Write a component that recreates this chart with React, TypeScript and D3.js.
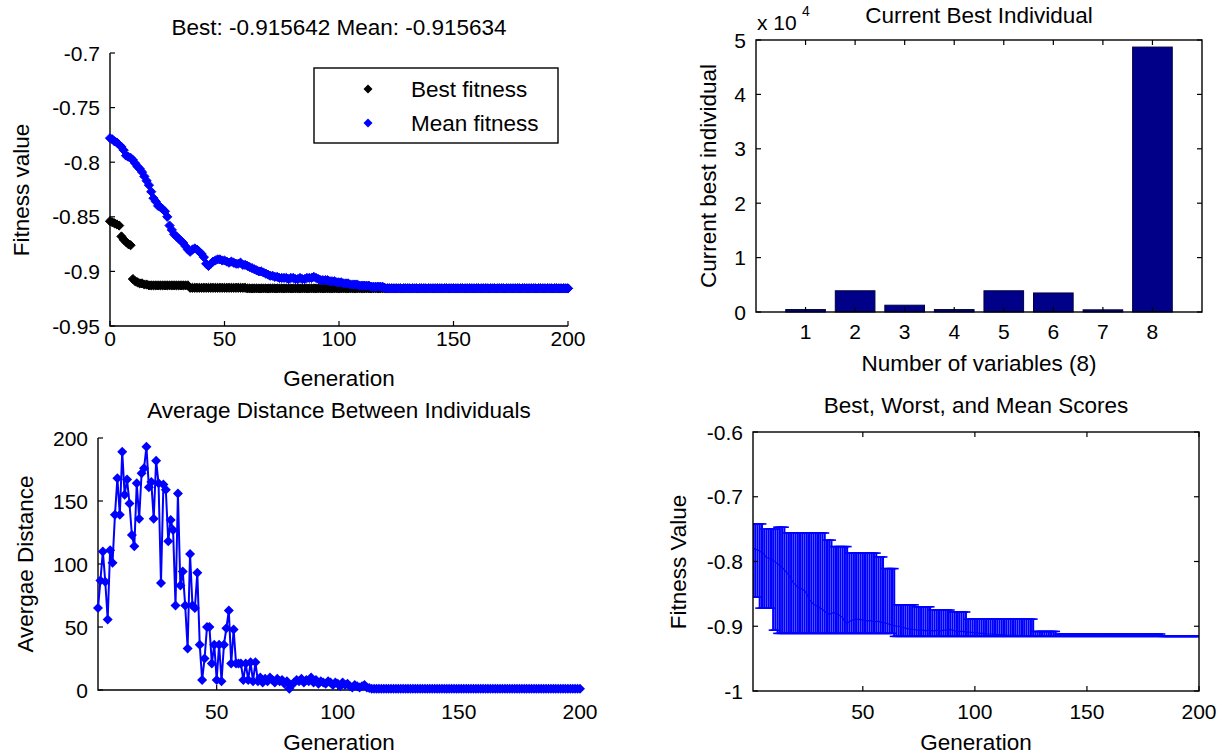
import React from 'react';
import * as d3 from 'd3';

const FONT = '"Liberation Sans", Arial, Helvetica, sans-serif';
const TICK_FS = 21;
const LABEL_FS = 22.5;

// ---------------- Panel 1: Best / Mean fitness ----------------
const fitnessTitle = 'Best: -0.915642 Mean: -0.915634';
const fitnessXTicks = [0, 50, 100, 150, 200];
const fitnessXTickLabels = ['0', '50', '100', '150', '200'];
const fitnessYTicks = [-0.95, -0.9, -0.85, -0.8, -0.75, -0.7];
const fitnessYTickLabels = ['-0.95', '-0.9', '-0.85', '-0.8', '-0.75', '-0.7'];
const legendLabels = ['Best fitness', 'Mean fitness'];

// generation 0..200
const bestFitness = [
  -0.854, -0.855, -0.856, -0.857, -0.858, -0.868, -0.871, -0.873, -0.875, -0.876,
  -0.907, -0.909, -0.910, -0.911, -0.911, -0.912, -0.912, -0.9128, -0.9128, -0.9128,
  -0.9128, -0.9128, -0.9128, -0.9128, -0.9128, -0.9128, -0.9128, -0.9128, -0.9128, -0.9128,
  -0.9128, -0.9128, -0.9128, -0.9128, -0.9128, -0.915, -0.915, -0.915, -0.915, -0.915,
  -0.915, -0.915, -0.915, -0.915, -0.915, -0.915, -0.915, -0.915, -0.915, -0.915,
  -0.915, -0.915, -0.915, -0.915, -0.915, -0.915, -0.915, -0.915, -0.915, -0.915,
  -0.9156, -0.9156, -0.9156, -0.9156, -0.9156, -0.9156, -0.9156, -0.9156, -0.9156, -0.9156,
  -0.9156, -0.9156, -0.9156, -0.9156, -0.9156, -0.9156, -0.9156, -0.9156, -0.9156, -0.9156,
  -0.9156, -0.9156, -0.9156, -0.9156, -0.9156, -0.9156, -0.9156, -0.9156, -0.9156, -0.9156,
  -0.9156, -0.9156, -0.9156, -0.9156, -0.9156, -0.9156, -0.9156, -0.9156, -0.9156, -0.9156,
  -0.9156, -0.9156, -0.9156, -0.9156, -0.9156, -0.9156, -0.9156, -0.9156, -0.9156, -0.9156,
  -0.9156, -0.9156, -0.9156, -0.9156, -0.9156, -0.9156, -0.9156, -0.9156, -0.9156, -0.9156,
  -0.9156, -0.9156, -0.9156, -0.9156, -0.9156, -0.9156, -0.9156, -0.9156, -0.9156, -0.9156,
  -0.9156, -0.9156, -0.9156, -0.9156, -0.9156, -0.9156, -0.9156, -0.9156, -0.9156, -0.9156,
  -0.9156, -0.9156, -0.9156, -0.9156, -0.9156, -0.9156, -0.9156, -0.9156, -0.9156, -0.9156,
  -0.9156, -0.9156, -0.9156, -0.9156, -0.9156, -0.9156, -0.9156, -0.9156, -0.9156, -0.9156,
  -0.9156, -0.9156, -0.9156, -0.9156, -0.9156, -0.9156, -0.9156, -0.9156, -0.9156, -0.9156,
  -0.9156, -0.9156, -0.9156, -0.9156, -0.9156, -0.9156, -0.9156, -0.9156, -0.9156, -0.9156,
  -0.9156, -0.9156, -0.9156, -0.9156, -0.9156, -0.9156, -0.9156, -0.9156, -0.9156, -0.9156,
  -0.9156, -0.9156, -0.9156, -0.9156, -0.9156, -0.9156, -0.9156, -0.9156, -0.9156, -0.9156,
  -0.9156,
];

// generation 0..200
const meanFitness = [
  -0.778, -0.779, -0.781, -0.782, -0.784, -0.786, -0.789, -0.794, -0.795, -0.796,
  -0.798, -0.801, -0.804, -0.806, -0.809, -0.813, -0.817, -0.821, -0.827, -0.833,
  -0.836, -0.840, -0.841, -0.843, -0.845, -0.850, -0.858, -0.862, -0.866, -0.868,
  -0.870, -0.872, -0.874, -0.877, -0.880, -0.882, -0.880, -0.879, -0.880, -0.882,
  -0.884, -0.887, -0.893, -0.895, -0.893, -0.891, -0.890, -0.889, -0.889, -0.890,
  -0.890, -0.891, -0.892, -0.891, -0.892, -0.893, -0.893, -0.892, -0.894, -0.894,
  -0.895, -0.896, -0.897, -0.898, -0.899, -0.900, -0.900, -0.901, -0.902, -0.903,
  -0.904, -0.904, -0.905, -0.905, -0.906, -0.906, -0.906, -0.906, -0.907, -0.906,
  -0.906, -0.907, -0.907, -0.906, -0.907, -0.907, -0.906, -0.906, -0.906, -0.905,
  -0.906, -0.907, -0.908, -0.908, -0.908, -0.908, -0.909, -0.909, -0.909, -0.910,
  -0.910, -0.910, -0.911, -0.911, -0.911, -0.912, -0.912, -0.912, -0.912, -0.913,
  -0.913, -0.913, -0.913, -0.913, -0.914, -0.914, -0.914, -0.914, -0.914, -0.914,
  -0.915, -0.9156, -0.9156, -0.9156, -0.9156, -0.9156, -0.9156, -0.9156, -0.9156, -0.9156,
  -0.9156, -0.9156, -0.9156, -0.9156, -0.9156, -0.9156, -0.9156, -0.9156, -0.9156, -0.9156,
  -0.9156, -0.9156, -0.9156, -0.9156, -0.9156, -0.9156, -0.9156, -0.9156, -0.9156, -0.9156,
  -0.9156, -0.9156, -0.9156, -0.9156, -0.9156, -0.9156, -0.9156, -0.9156, -0.9156, -0.9156,
  -0.9156, -0.9156, -0.9156, -0.9156, -0.9156, -0.9156, -0.9156, -0.9156, -0.9156, -0.9156,
  -0.9156, -0.9156, -0.9156, -0.9156, -0.9156, -0.9156, -0.9156, -0.9156, -0.9156, -0.9156,
  -0.9156, -0.9156, -0.9156, -0.9156, -0.9156, -0.9156, -0.9156, -0.9156, -0.9156, -0.9156,
  -0.9156, -0.9156, -0.9156, -0.9156, -0.9156, -0.9156, -0.9156, -0.9156, -0.9156, -0.9156,
  -0.9156,
];

// ---------------- Panel 2: Current best individual ----------------
const individualTitle = 'Current Best Individual';
const variableLabels = ['1', '2', '3', '4', '5', '6', '7', '8'];
const bestIndividual = [450, 3900, 1250, 450, 3900, 3500, 400, 48700];
const individualYTicks = [0, 10000, 20000, 30000, 40000, 50000];
const individualYTickLabels = ['0', '1', '2', '3', '4', '5'];

// ---------------- Panel 3: Average distance ----------------
const distanceTitle = 'Average Distance Between Individuals';
const distanceXTicks = [50, 100, 150, 200];
const distanceXTickLabels = ['50', '100', '150', '200'];
const distanceYTicks = [0, 50, 100, 150, 200];
const distanceYTickLabels = ['0', '50', '100', '150', '200'];
// generation 1..200
const avgDistance = [
  65, 87, 110, 86, 56, 111, 101, 139, 168, 139,
  189, 155, 167, 148, 123, 114, 164, 136, 172, 176,
  193, 161, 165, 136, 182, 164, 85, 163, 159, 118,
  135, 127, 67, 156, 83, 94, 67, 33, 108, 67,
  65, 93, 36, 8, 25, 50, 50, 21, 36, 8,
  36, 7, 36, 49, 63, 21, 48, 21, 21, 21,
  8, 21, 8, 22, 7, 22, 7, 10, 6, 9,
  7, 10, 8, 6, 9, 7, 8, 5, 7, 1,
  4, 6, 8, 7, 9, 6, 8, 7, 10, 6,
  8, 5, 7, 6, 5, 7, 6, 4, 6, 5,
  3, 6, 4, 5, 3, 2, 4, 3, 2, 3,
  4, 2, 1.5, 1, 1, 1, 1, 1, 1, 1,
  1, 1, 1, 1, 1, 1, 1, 1, 1, 1,
  1, 1, 1, 1, 1, 1, 1, 1, 1, 1,
  1, 1, 1, 1, 1, 1, 1, 1, 1, 1,
  1, 1, 1, 1, 1, 1, 1, 1, 1, 1,
  1, 1, 1, 1, 1, 1, 1, 1, 1, 1,
  1, 1, 1, 1, 1, 1, 1, 1, 1, 1,
  1, 1, 1, 1, 1, 1, 1, 1, 1, 1,
  1, 1, 1, 1, 1, 1, 1, 1, 1, 1,
];

// ---------------- Panel 4: Best, worst, mean scores ----------------
const scoresTitle = 'Best, Worst, and Mean Scores';
const scoreXTicks = [50, 100, 150, 200];
const scoreXTickLabels = ['50', '100', '150', '200'];
const scoreYTicks = [-1, -0.9, -0.8, -0.7, -0.6];
const scoreYTickLabels = ['-1', '-0.9', '-0.8', '-0.7', '-0.6'];
// generation 1..200
const worstScore = [
  -0.742, -0.742, -0.742, -0.742, -0.742, -0.750, -0.750, -0.750, -0.750, -0.750,
  -0.750, -0.747, -0.747, -0.747, -0.747, -0.756, -0.756, -0.756, -0.756, -0.756,
  -0.756, -0.756, -0.756, -0.756, -0.756, -0.756, -0.756, -0.756, -0.756, -0.756,
  -0.756, -0.756, -0.756, -0.767, -0.767, -0.767, -0.777, -0.777, -0.777, -0.777,
  -0.777, -0.777, -0.777, -0.787, -0.787, -0.787, -0.787, -0.787, -0.787, -0.787,
  -0.787, -0.787, -0.787, -0.787, -0.787, -0.787, -0.793, -0.793, -0.793, -0.811,
  -0.811, -0.811, -0.811, -0.811, -0.867, -0.867, -0.867, -0.867, -0.867, -0.867,
  -0.867, -0.867, -0.867, -0.870, -0.870, -0.870, -0.870, -0.870, -0.870, -0.870,
  -0.875, -0.875, -0.875, -0.875, -0.875, -0.875, -0.875, -0.875, -0.875, -0.878,
  -0.878, -0.878, -0.878, -0.878, -0.878, -0.878, -0.889, -0.889, -0.889, -0.889,
  -0.889, -0.889, -0.889, -0.889, -0.889, -0.889, -0.889, -0.889, -0.889, -0.889,
  -0.889, -0.889, -0.889, -0.889, -0.889, -0.889, -0.889, -0.889, -0.889, -0.889,
  -0.889, -0.889, -0.889, -0.889, -0.889, -0.889, -0.908, -0.908, -0.908, -0.908,
  -0.908, -0.908, -0.908, -0.908, -0.908, -0.908, -0.912, -0.912, -0.912, -0.912,
  -0.912, -0.912, -0.912, -0.912, -0.912, -0.912, -0.912, -0.912, -0.912, -0.912,
  -0.912, -0.912, -0.912, -0.912, -0.912, -0.912, -0.912, -0.912, -0.912, -0.912,
  -0.912, -0.912, -0.912, -0.912, -0.912, -0.912, -0.912, -0.912, -0.912, -0.912,
  -0.912, -0.912, -0.912, -0.912, -0.912, -0.912, -0.912, -0.912, -0.912, -0.912,
  -0.912, -0.912, -0.912, -0.9156, -0.9156, -0.9156, -0.9156, -0.9156, -0.9156, -0.9156,
  -0.9156, -0.9156, -0.9156, -0.9156, -0.9156, -0.9156, -0.9156, -0.9156, -0.9156, -0.9156,
];
// generation 1..200
const bestScore = [
  -0.855, -0.855, -0.855, -0.872, -0.872, -0.872, -0.872, -0.872, -0.872, -0.906,
  -0.906, -0.911, -0.911, -0.911, -0.911, -0.911, -0.911, -0.911, -0.911, -0.911,
  -0.911, -0.911, -0.911, -0.911, -0.911, -0.911, -0.911, -0.911, -0.911, -0.911,
  -0.911, -0.911, -0.911, -0.911, -0.911, -0.911, -0.911, -0.911, -0.911, -0.911,
  -0.911, -0.911, -0.911, -0.911, -0.911, -0.911, -0.911, -0.911, -0.911, -0.911,
  -0.911, -0.911, -0.911, -0.911, -0.911, -0.911, -0.911, -0.911, -0.911, -0.911,
  -0.911, -0.911, -0.911, -0.9156, -0.9156, -0.9156, -0.9156, -0.9156, -0.9156, -0.9156,
  -0.9156, -0.9156, -0.9156, -0.9156, -0.9156, -0.9156, -0.9156, -0.9156, -0.9156, -0.9156,
  -0.9156, -0.9156, -0.9156, -0.9156, -0.9156, -0.9156, -0.9156, -0.9156, -0.9156, -0.9156,
  -0.9156, -0.9156, -0.9156, -0.9156, -0.9156, -0.9156, -0.9156, -0.9156, -0.9156, -0.9156,
  -0.9156, -0.9156, -0.9156, -0.9156, -0.9156, -0.9156, -0.9156, -0.9156, -0.9156, -0.9156,
  -0.9156, -0.9156, -0.9156, -0.9156, -0.9156, -0.9156, -0.9156, -0.9156, -0.9156, -0.9156,
  -0.9156, -0.9156, -0.9156, -0.9156, -0.9156, -0.9156, -0.9156, -0.9156, -0.9156, -0.9156,
  -0.9156, -0.9156, -0.9156, -0.9156, -0.9156, -0.9156, -0.9156, -0.9156, -0.9156, -0.9156,
  -0.9156, -0.9156, -0.9156, -0.9156, -0.9156, -0.9156, -0.9156, -0.9156, -0.9156, -0.9156,
  -0.9156, -0.9156, -0.9156, -0.9156, -0.9156, -0.9156, -0.9156, -0.9156, -0.9156, -0.9156,
  -0.9156, -0.9156, -0.9156, -0.9156, -0.9156, -0.9156, -0.9156, -0.9156, -0.9156, -0.9156,
  -0.9156, -0.9156, -0.9156, -0.9156, -0.9156, -0.9156, -0.9156, -0.9156, -0.9156, -0.9156,
  -0.9156, -0.9156, -0.9156, -0.9156, -0.9156, -0.9156, -0.9156, -0.9156, -0.9156, -0.9156,
  -0.9156, -0.9156, -0.9156, -0.9156, -0.9156, -0.9156, -0.9156, -0.9156, -0.9156, -0.9156,
];
// mean score per generation 1..200 is the mean fitness of the population
const meanScore = meanFitness.slice(1);

// ---------------- scales ----------------
const x1 = d3.scaleLinear().domain([0, 200]).range([110, 568]);
const y1 = d3.scaleLinear().domain([-0.95, -0.7]).range([326, 53]);
const x2 = d3.scaleLinear().domain([0, 9]).range([756, 1202]);
const y2 = d3.scaleLinear().domain([0, 50000]).range([312, 40]);
const x3 = d3.scaleLinear().domain([1, 200]).range([98, 580]);
const y3 = d3.scaleLinear().domain([0, 200]).range([690, 438]);
const x4 = d3.scaleLinear().domain([1, 200]).range([753, 1199]);
const y4 = d3.scaleLinear().domain([-1, -0.6]).range([691, 432]);

const BLUE = '#0000ff';
const TL = 5;

function diamond(r: number) {
  return `M0,${-r}L${r},0L0,${r}L${-r},0Z`;
}

type AxesProps = {
  xr: [number, number];
  yr: [number, number]; // [bottom, top]
  xTickPos: number[];
  xTickLabels: string[];
  yTickPos: number[];
  yTickLabels: string[];
  box: boolean;
  xLabelBaseline: number;
};

function Axes({ xr, yr, xTickPos, xTickLabels, yTickPos, yTickLabels, box, xLabelBaseline }: AxesProps) {
  const [xa, xb] = xr;
  const [yb, yt] = yr;
  return (
    <g>
      {box ? (
        <rect x={xa} y={yt} width={xb - xa} height={yb - yt} fill="none" stroke="#000" strokeWidth={1.4} />
      ) : (
        <path d={`M${xa},${yt}V${yb}H${xb}`} fill="none" stroke="#000" strokeWidth={1.4} />
      )}
      {xTickPos.map((px, i) => (
        <g key={'x' + i}>
          <line x1={px} x2={px} y1={yb} y2={yb - TL} stroke="#000" strokeWidth={1.2} />
          {box && <line x1={px} x2={px} y1={yt} y2={yt + TL} stroke="#000" strokeWidth={1.2} />}
          <text x={px} y={xLabelBaseline} textAnchor="middle" fontSize={TICK_FS} fill="#000">
            {xTickLabels[i]}
          </text>
        </g>
      ))}
      {yTickPos.map((py, i) => (
        <g key={'y' + i}>
          <line x1={xa} x2={xa + TL} y1={py} y2={py} stroke="#000" strokeWidth={1.2} />
          {box && <line x1={xb} x2={xb - TL} y1={py} y2={py} stroke="#000" strokeWidth={1.2} />}
          <text x={xa - 10} y={py + 7.5} textAnchor="end" fontSize={TICK_FS} fill="#000">
            {yTickLabels[i]}
          </text>
        </g>
      ))}
    </g>
  );
}

function YLabel({ x, y, text }: { x: number; y: number; text: string }) {
  return (
    <text transform={`translate(${x},${y}) rotate(-90)`} textAnchor="middle" fontSize={LABEL_FS} fill="#000">
      {text}
    </text>
  );
}

export default function App() {
  const distLine = d3
    .line<number>()
    .x((_, i) => x3(i + 1))
    .y((d) => y3(d))(avgDistance) as string;
  const meanScoreLine = d3
    .line<number>()
    .x((_, i) => x4(i + 1))
    .y((d) => y4(d))(meanScore) as string;
  const tee = 2; // errorbar cap half-width in generations
  const barW = x2(0.8) - x2(0);

  return (
    <svg
      width={1226}
      height={754}
      viewBox="0 0 1226 754"
      style={{ position: 'absolute', left: 0, top: 0, display: 'block' }}
      fontFamily={FONT}
    >
      <defs>
        <clipPath id="clip4">
          <rect x={x4.range()[0]} y={y4.range()[1]} width={x4.range()[1] - x4.range()[0]} height={y4.range()[0] - y4.range()[1]} />
        </clipPath>
      </defs>
      <rect width={1226} height={754} fill="#fff" />

      {/* ---------- Panel 1 ---------- */}
      <text x={339} y={35} textAnchor="middle" fontSize={LABEL_FS}>{fitnessTitle}</text>
      <Axes
        xr={[x1.range()[0], x1.range()[1]]}
        yr={[y1.range()[0], y1.range()[1]]}
        xTickPos={fitnessXTicks.map((t) => x1(t))}
        xTickLabels={fitnessXTickLabels}
        yTickPos={fitnessYTicks.map((t) => y1(t))}
        yTickLabels={fitnessYTickLabels}
        box={false}
        xLabelBaseline={346}
      />
      {bestFitness.map((v, i) => (
        <path key={'b' + i} d={diamond(4.6)} transform={`translate(${x1(i)},${y1(v)})`} fill="#000" stroke="#000" strokeWidth={1} />
      ))}
      {meanFitness.map((v, i) => (
        <path key={'m' + i} d={diamond(4.6)} transform={`translate(${x1(i)},${y1(v)})`} fill={BLUE} stroke={BLUE} strokeWidth={1} />
      ))}
      <rect x={314} y={68} width={244} height={75} fill="#fff" stroke="#000" strokeWidth={1.4} />
      <path d={diamond(4.5)} transform="translate(368,89)" fill="#000" />
      <path d={diamond(4.5)} transform="translate(368,123)" fill={BLUE} />
      <text x={411} y={97} fontSize={LABEL_FS}>{legendLabels[0]}</text>
      <text x={411} y={131} fontSize={LABEL_FS}>{legendLabels[1]}</text>
      <text x={339} y={386} textAnchor="middle" fontSize={LABEL_FS}>Generation</text>
      <YLabel x={29} y={190} text="Fitness value" />

      {/* ---------- Panel 2 ---------- */}
      <text x={979} y={23} textAnchor="middle" fontSize={LABEL_FS}>{individualTitle}</text>
      {bestIndividual.map((v, i) => (
        <rect
          key={'bar' + i}
          x={x2(i + 1) - barW / 2}
          y={y2(v)}
          width={barW}
          height={y2(0) - y2(v)}
          fill="#000088"
          stroke="#000044"
          strokeWidth={1}
        />
      ))}
      <Axes
        xr={[x2.range()[0], x2.range()[1]]}
        yr={[y2.range()[0], y2.range()[1]]}
        xTickPos={variableLabels.map((_, i) => x2(i + 1))}
        xTickLabels={variableLabels}
        yTickPos={individualYTicks.map((t) => y2(t))}
        yTickLabels={individualYTickLabels}
        box={true}
        xLabelBaseline={339}
      />
      <text x={757} y={30} fontSize={21}>x 10</text>
      <text x={802} y={16} fontSize={14}>4</text>
      <text x={979} y={371} textAnchor="middle" fontSize={LABEL_FS}>Number of variables (8)</text>
      <YLabel x={716} y={176} text="Current best individual" />

      {/* ---------- Panel 3 ---------- */}
      <text x={339} y={418} textAnchor="middle" fontSize={LABEL_FS}>{distanceTitle}</text>
      <Axes
        xr={[x3.range()[0], x3.range()[1]]}
        yr={[y3.range()[0], y3.range()[1]]}
        xTickPos={distanceXTicks.map((t) => x3(t))}
        xTickLabels={distanceXTickLabels}
        yTickPos={distanceYTicks.map((t) => y3(t))}
        yTickLabels={distanceYTickLabels}
        box={false}
        xLabelBaseline={719}
      />
      <path d={distLine} fill="none" stroke={BLUE} strokeWidth={2} />
      {avgDistance.map((v, i) => (
        <path key={'d' + i} d={diamond(5)} transform={`translate(${x3(i + 1)},${y3(v)})`} fill={BLUE} />
      ))}
      <text x={339} y={750} textAnchor="middle" fontSize={LABEL_FS}>Generation</text>
      <YLabel x={33} y={564} text="Avergae Distance" />

      {/* ---------- Panel 4 ---------- */}
      <text x={976} y={413} textAnchor="middle" fontSize={LABEL_FS}>{scoresTitle}</text>
      <g clipPath="url(#clip4)">
        {worstScore.map((w, i) => {
          const g = i + 1;
          const b = bestScore[i];
          return (
            <g key={'e' + i}>
              <line x1={x4(g)} x2={x4(g)} y1={y4(b)} y2={y4(w)} stroke={BLUE} strokeWidth={2.1} />
              <line x1={x4(g - tee)} x2={x4(g + tee)} y1={y4(w)} y2={y4(w)} stroke={BLUE} strokeWidth={1.6} />
              <line x1={x4(g - tee)} x2={x4(g + tee)} y1={y4(b)} y2={y4(b)} stroke={BLUE} strokeWidth={1.6} />
            </g>
          );
        })}
        <path d={meanScoreLine} fill="none" stroke={BLUE} strokeWidth={1.2} />
      </g>
      <Axes
        xr={[x4.range()[0], x4.range()[1]]}
        yr={[y4.range()[0], y4.range()[1]]}
        xTickPos={scoreXTicks.map((t) => x4(t))}
        xTickLabels={scoreXTickLabels}
        yTickPos={scoreYTicks.map((t) => y4(t))}
        yTickLabels={scoreYTickLabels}
        box={true}
        xLabelBaseline={719}
      />
      <text x={976} y={750} textAnchor="middle" fontSize={LABEL_FS}>Generation</text>
      <YLabel x={686} y={562} text="Fitness Value" />
    </svg>
  );
}
